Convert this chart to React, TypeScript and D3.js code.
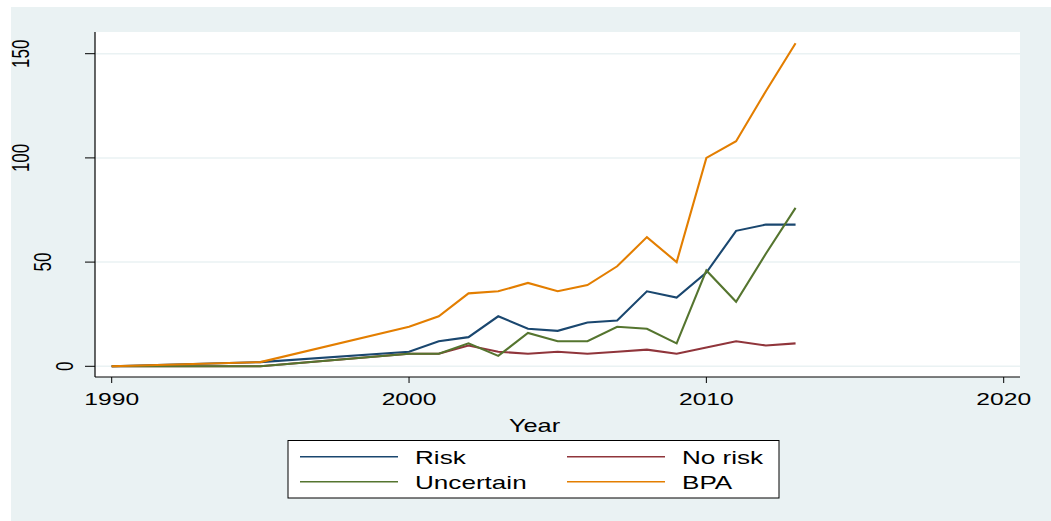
import React from "react";
import * as d3 from "d3";

const years = [1990, 1995, 2000, 2001, 2002, 2003, 2004, 2005, 2006, 2007, 2008, 2009, 2010, 2011, 2012, 2013];
const risk = [0, 2, 7, 12, 14, 24, 18, 17, 21, 22, 36, 33, 45, 65, 68, 68];
const noRisk = [0, 0, 6, 6, 10, 7, 6, 7, 6, 7, 8, 6, 9, 12, 10, 11];
const uncertain = [0, 0, 6, 6, 11, 5, 16, 12, 12, 19, 18, 11, 46, 31, 54, 76];
const bpa = [0, 2, 19, 24, 35, 36, 40, 36, 39, 48, 62, 50, 100, 108, 132, 155];

const xTicks = [1990, 2000, 2010, 2020];
const yTicks = [0, 50, 100, 150];

const series = [
  { name: "Risk", values: risk, color: "#1a476f" },
  { name: "No risk", values: noRisk, color: "#90353b" },
  { name: "Uncertain", values: uncertain, color: "#55752f" },
  { name: "BPA", values: bpa, color: "#e37e00" },
];

const W = 1051;
const H = 521;
const FONT = "'Liberation Sans', Arial, sans-serif";
const SX = 1.45; // the picture is stretched sideways

export default function App() {
  const plot = { left: 95, right: 1020, top: 32, bottom: 377 };

  const x = d3.scaleLinear().domain([1990, 2020]).range([111.7, 1003.7]);
  const y = d3.scaleLinear().domain([0, 150]).range([366.3, 53.7]);

  const line = d3
    .line<number>()
    .x((_, i) => x(years[i]))
    .y((d) => y(d));

  return (
    <svg
      width={W}
      height={H}
      style={{ position: "absolute", left: 0, top: 0, background: "#fff" }}
    >
      <rect x={11} y={7} width={W - 11} height={H - 7} fill="#eaf2f3" />
      <rect
        x={plot.left}
        y={plot.top}
        width={plot.right - plot.left}
        height={plot.bottom - plot.top}
        fill="#fff"
      />
      {yTicks.map((t) => (
        <line
          key={"g" + t}
          x1={plot.left}
          x2={plot.right}
          y1={y(t)}
          y2={y(t)}
          stroke="#eaf2f3"
          strokeWidth={1.5}
        />
      ))}
      {series.map((s) => (
        <path
          key={s.name}
          d={line(s.values) || ""}
          fill="none"
          stroke={s.color}
          strokeWidth={2.1}
          strokeLinejoin="miter"
        />
      ))}
      {/* axes */}
      <line x1={plot.left} x2={plot.left} y1={plot.top} y2={plot.bottom} stroke="#000" strokeWidth={1.2} />
      <line x1={plot.left} x2={plot.right} y1={plot.bottom} y2={plot.bottom} stroke="#000" strokeWidth={1.2} />
      {yTicks.map((t) => {
        const label = String(t);
        const bx = 95 - 22 * label.length;
        return (
          <g key={"y" + t}>
            <line x1={85} x2={plot.left} y1={y(t)} y2={y(t)} stroke="#000" strokeWidth={1} />
            <text
              transform={`translate(${bx},${y(t)}) scale(${SX},1) rotate(-90)`}
              textAnchor="middle"
              fontFamily={FONT}
              fontSize={17}
              fill="#000"
            >
              {label}
            </text>
          </g>
        );
      })}
      {xTicks.map((t) => (
        <g key={"x" + t}>
          <line x1={x(t)} x2={x(t)} y1={plot.bottom} y2={plot.bottom + 6} stroke="#000" strokeWidth={1} />
          <text
            transform={`translate(${x(t)},405) scale(${SX},1)`}
            textAnchor="middle"
            fontFamily={FONT}
            fontSize={17}
            fill="#000"
          >
            {t}
          </text>
        </g>
      ))}
      <text
        transform={`translate(534.5,431.5) scale(${SX},1)`}
        textAnchor="middle"
        fontFamily={FONT}
        fontSize={17.5}
        fill="#000"
      >
        Year
      </text>
      {/* legend */}
      <rect x={288} y={440.5} width={491} height={57.5} fill="#fff" stroke="#000" strokeWidth={1} />
      {series.map((s, i) => {
        const col = i % 2;
        const row = Math.floor(i / 2);
        const lx = col === 0 ? 300 : 567;
        const tx = col === 0 ? 415 : 682;
        const ly = 456.7 + row * 25;
        return (
          <g key={"l" + s.name}>
            <line x1={lx} x2={lx + 98} y1={ly} y2={ly} stroke={s.color} strokeWidth={1.5} />
            <text
              transform={`translate(${tx},${464.3 + row * 25}) scale(${SX},1)`}
              fontFamily={FONT}
              fontSize={18}
              fill="#000"
            >
              {s.name}
            </text>
          </g>
        );
      })}
    </svg>
  );
}
